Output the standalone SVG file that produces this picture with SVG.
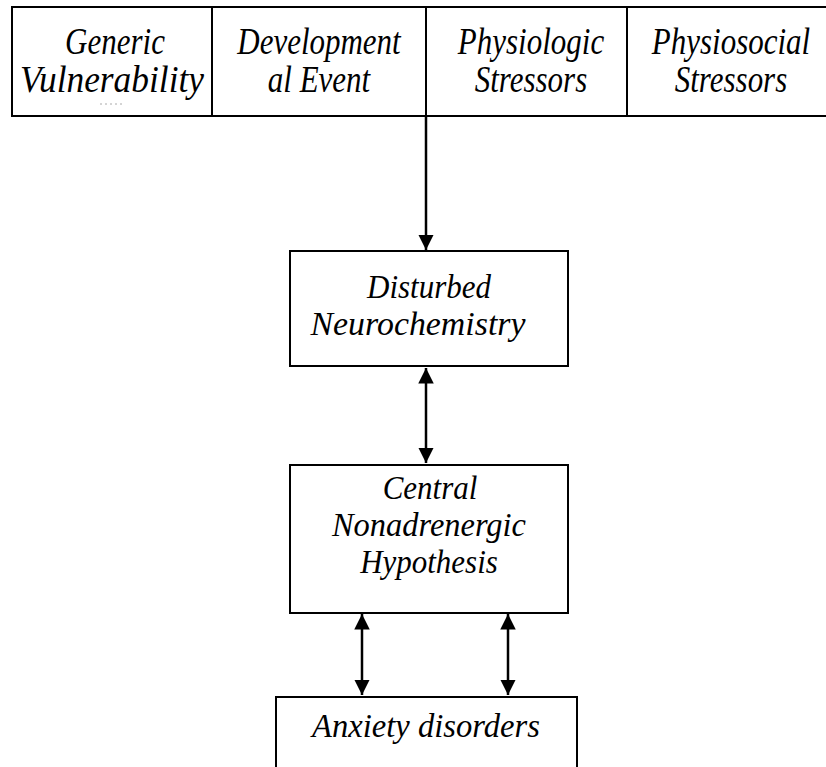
<svg xmlns="http://www.w3.org/2000/svg" width="826" height="767" viewBox="0 0 826 767">
<style>
.box{fill:#fff;stroke:#000;stroke-width:2}
.t{font-family:'Liberation Serif','Times New Roman',serif;font-style:italic;font-size:31px;fill:#000;text-anchor:middle}
.c{stroke:#000;stroke-width:2.5;fill:none}
</style>
<defs>
<marker id="ah" viewBox="0 0 10 10" refX="10" refY="5" markerWidth="6.2" markerHeight="6.2" markerUnits="strokeWidth" orient="auto-start-reverse">
<path d="M0,0 L10,5 L0,10 Z" fill="#000"/>
</marker>
</defs>
<g id="top-table">
<path class="box" d="M12,7 H830 V116 H12 Z"/>
<line x1="212" y1="7" x2="212" y2="116" stroke="#000" stroke-width="2"/>
<line x1="426" y1="7" x2="426" y2="116" stroke="#000" stroke-width="2"/>
<line x1="627" y1="7" x2="627" y2="116" stroke="#000" stroke-width="2"/>
<line x1="100" y1="104" x2="124" y2="104" stroke="#aaa" stroke-width="1" stroke-dasharray="2,3"/>
</g>
<g id="generic">
<text class="t" x="115" y="0" transform="translate(0,54) scale(1,1.22)" textLength="100">Generic</text>
<text class="t" x="112" y="0" transform="translate(0,92) scale(1,1.22)" textLength="184" lengthAdjust="spacingAndGlyphs">Vulnerability</text>
</g>
<g id="developmental">
<text class="t" x="319" y="0" transform="translate(0,54) scale(1,1.22)">Development</text>
<text class="t" x="319" y="0" transform="translate(0,92) scale(1,1.22)">al Event</text>
</g>
<g id="physiologic">
<text class="t" x="531" y="0" transform="translate(0,54) scale(1,1.22)">Physiologic</text>
<text class="t" x="531" y="0" transform="translate(0,92) scale(1,1.22)">Stressors</text>
</g>
<g id="physiosocial">
<text class="t" x="731" y="0" transform="translate(0,54) scale(1,1.22)">Physiosocial</text>
<text class="t" x="731" y="0" transform="translate(0,92) scale(1,1.22)">Stressors</text>
</g>
<g id="disturbed">
<rect class="box" x="290" y="251" width="278" height="115"/>
<text class="t" x="429" y="0" transform="translate(0,298) scale(1,1.1)">Disturbed</text>
<text class="t" x="418" y="0" transform="translate(0,335) scale(1,1.1)" textLength="215" lengthAdjust="spacingAndGlyphs">Neurochemistry</text>
</g>
<g id="central">
<rect class="box" x="290" y="465" width="278" height="148"/>
<text class="t" x="430" y="0" transform="translate(0,499) scale(1,1.1)">Central</text>
<text class="t" x="429" y="0" transform="translate(0,536) scale(1,1.1)" textLength="194" lengthAdjust="spacingAndGlyphs">Nonadrenergic</text>
<text class="t" x="429" y="0" transform="translate(0,573) scale(1,1.1)">Hypothesis</text>
</g>
<g id="anxiety">
<rect class="box" x="276" y="697" width="301" height="90"/>
<text class="t" x="426" y="0" transform="translate(0,737) scale(1,1.1)" textLength="228" lengthAdjust="spacingAndGlyphs">Anxiety disorders</text>
</g>
<g id="connectors">
<line class="c" x1="426" y1="116" x2="426" y2="250" marker-end="url(#ah)"/>
<line class="c" x1="426" y1="368" x2="426" y2="463" marker-start="url(#ah)" marker-end="url(#ah)"/>
<line class="c" x1="362" y1="614" x2="362" y2="695" marker-start="url(#ah)" marker-end="url(#ah)"/>
<line class="c" x1="508" y1="614" x2="508" y2="695" marker-start="url(#ah)" marker-end="url(#ah)"/>
</g>
</svg>
